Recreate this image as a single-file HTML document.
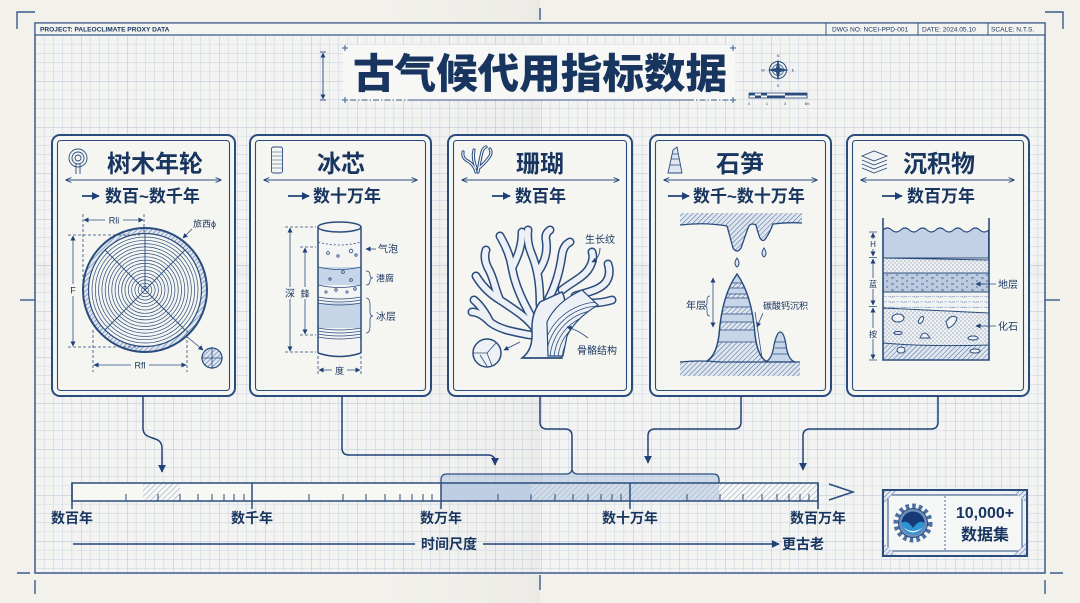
<!DOCTYPE html>
<html><head><meta charset="utf-8">
<style>
html,body{margin:0;padding:0;background:#f2f1ec;}
svg{display:block}
text{font-family:"Liberation Sans","Noto Sans CJK SC",sans-serif;fill:#18355f;}
.b{font-weight:700}
</style></head><body>
<svg width="1080" height="603" viewBox="0 0 1080 603" xmlns="http://www.w3.org/2000/svg">
<defs>
<pattern id="grid" x="35" y="35" width="46" height="46" patternUnits="userSpaceOnUse">
 <path d="M9.2 0V46M18.4 0V46M27.6 0V46M36.8 0V46M0 9.2H46M0 18.4H46M0 27.6H46M0 36.8H46" stroke="#d3dbe6" stroke-width="0.7" fill="none"/>
 <path d="M0 0V46M0 0H46" stroke="#b3c1d6" stroke-width="1" fill="none"/>
</pattern>
<pattern id="hatch" width="3.5" height="3.5" patternUnits="userSpaceOnUse" patternTransform="rotate(45)">
 <rect width="3.5" height="3.5" fill="#dfe6f0"/>
 <line x1="0" y1="0" x2="0" y2="3.5" stroke="#34578a" stroke-width="0.9"/>
</pattern>
<pattern id="hatchT" width="4" height="4" patternUnits="userSpaceOnUse" patternTransform="rotate(45)">
 <line x1="0" y1="0" x2="0" y2="4" stroke="#7088ad" stroke-width="0.8"/>
</pattern>
<pattern id="dots" width="4" height="4" patternUnits="userSpaceOnUse">
 <rect width="4" height="4" fill="#eef0f1"/>
 <circle cx="1" cy="1" r="0.55" fill="#3b5d8c"/><circle cx="3" cy="3" r="0.45" fill="#3b5d8c"/>
</pattern>
<pattern id="dash" width="10" height="6" patternUnits="userSpaceOnUse">
 <rect width="10" height="6" fill="#bccbdf"/>
 <path d="M1 2H4M6 5H8" stroke="#2d4f80" stroke-width="0.8"/>
</pattern>
<pattern id="bricks" width="12" height="5.3" patternUnits="userSpaceOnUse">
 <rect width="12" height="5.3" fill="#f1f2f2"/>
 <path d="M0 5.3H12M2 0H7" stroke="#5a77a0" stroke-width="0.7" stroke-dasharray="3 1"/>
</pattern>
<marker id="ah" viewBox="0 0 10 10" refX="9" refY="5" markerWidth="8" markerHeight="8" markerUnits="userSpaceOnUse" orient="auto-start-reverse">
 <path d="M0 0L10 5L0 10z" fill="#1f4177"/>
</marker>
<marker id="as" viewBox="0 0 10 10" refX="9" refY="5" markerWidth="5" markerHeight="5" markerUnits="userSpaceOnUse" orient="auto-start-reverse">
 <path d="M0 0L10 5L0 10z" fill="#1f4177"/>
</marker>
<marker id="ao" viewBox="0 0 10 10" refX="9" refY="5" markerWidth="6" markerHeight="6" markerUnits="userSpaceOnUse" orient="auto-start-reverse">
 <path d="M0 1L10 5L0 9" fill="none" stroke="#1f4177" stroke-width="1.5"/>
</marker>
<linearGradient id="fold" x1="0" x2="1" y1="0" y2="0">
 <stop offset="0" stop-color="#000" stop-opacity="0"/>
 <stop offset="0.9" stop-color="#000" stop-opacity="0.02"/>
 <stop offset="1" stop-color="#000" stop-opacity="0.035"/>
</linearGradient>
<clipPath id="stalClip"><path d="M702 363 Q716 360 719 335 Q722 295 737 274 Q752 295 755 335 Q758 360 770 363 Z"/></clipPath>
<clipPath id="coralBand"><path d="M548 356 L547 322 Q556 302 582 290 L598 305 Q576 318 567 336 L563 356 Z"/></clipPath>
</defs>

<!-- paper -->
<rect width="1080" height="603" fill="#f2f1ec"/>
<rect x="35" y="35" width="1010" height="538" fill="#f3f4f2"/>
<rect x="35" y="35" width="1010" height="538" fill="url(#grid)"/>
<rect x="380" y="0" width="160" height="603" fill="url(#fold)"/>
<rect x="35" y="262" width="1010" height="16" fill="#000" opacity="0.015"/>
<!-- frame -->
<rect x="35" y="23" width="1010" height="550" fill="none" stroke="#3a5b8a" stroke-width="1.5"/>
<rect x="35.7" y="23.7" width="1008.6" height="11.3" fill="#f3f3f0"/>
<line x1="35" y1="35" x2="1045" y2="35" stroke="#3a5b8a" stroke-width="1.2"/>
<path d="M826 23V35M918 23V35M988 23V35" stroke="#3a5b8a" stroke-width="1"/>
<text x="40" y="31.5" font-size="6.6" class="b" fill="#2a3f5f">PROJECT: PALEOCLIMATE PROXY DATA</text>
<text x="832" y="31.5" font-size="6.6" fill="#2a3f5f">DWG NO: NCEI-PPD-001</text>
<text x="922" y="31.5" font-size="6.6" fill="#2a3f5f">DATE: 2024.05.10</text>
<text x="991" y="31.5" font-size="6.6" fill="#2a3f5f">SCALE: N.T.S.</text>
<g stroke="#3a5b8a" stroke-width="1.4" fill="none">
<path d="M17 29V12H35"/><path d="M1045 12H1063V29"/>
<path d="M17 573H30M35 580V594"/><path d="M1050 573H1063M1045 580V594"/>
<path d="M540 575V590"/><path d="M540 8V20"/>
<path d="M20 300H35"/><path d="M1045 300H1060"/>
</g>

<!-- title -->
<rect x="343" y="45" width="392" height="55" fill="#f7f7f5"/>
<g stroke="#3a5b8a" stroke-width="1" fill="none">
<path d="M342 48H348M345 45V51M730 48H736M733 45V51M342 100H348M345 97V103M730 100H736M733 97V103"/>
<path d="M350 100H410" stroke-dasharray="6 2 1.5 2"/>
<path d="M410 100H688"/>
<path d="M688 100H730" stroke-dasharray="6 2 1.5 2"/>
<path d="M320 52H326M320 100H326"/>
<line x1="323" y1="53" x2="323" y2="99" marker-start="url(#as)" marker-end="url(#as)"/>
</g>
<text x="353" y="88" font-size="41" font-weight="900" fill="#17386a" textLength="374" lengthAdjust="spacingAndGlyphs">古气候代用指标数据</text>
<g transform="translate(778,70)">
<circle r="8.5" fill="none" stroke="#2a4c7d" stroke-width="1"/>
<circle r="5.5" fill="none" stroke="#2a4c7d" stroke-width="0.7"/>
<path d="M0 -11L2 -2L11 0L2 2L0 11L-2 2L-11 0L-2 -2Z" fill="#2a4c7d"/>
<text x="0" y="-13" font-size="4" text-anchor="middle">N</text>
<text x="0" y="17" font-size="4" text-anchor="middle">S</text>
<text x="-15" y="1.5" font-size="4" text-anchor="middle">W</text>
<text x="15" y="1.5" font-size="4" text-anchor="middle">E</text>
</g>
<g>
<rect x="749" y="93" width="58" height="5" fill="#f6f6f3" stroke="#2a4c7d" stroke-width="0.8"/>
<rect x="749" y="93" width="6" height="2.5" fill="#2a4c7d"/><rect x="755" y="95.5" width="6" height="2.5" fill="#2a4c7d"/>
<rect x="761" y="93" width="6" height="2.5" fill="#2a4c7d"/><rect x="767" y="95.5" width="18" height="2.5" fill="#2a4c7d"/>
<rect x="785" y="93" width="22" height="2.5" fill="#2a4c7d"/>
<text x="749" y="105" font-size="3.5" text-anchor="middle">0</text><text x="767" y="105" font-size="3.5" text-anchor="middle">1</text>
<text x="785" y="105" font-size="3.5" text-anchor="middle">3</text><text x="807" y="105" font-size="3.5" text-anchor="middle">5m</text>
</g>

<!-- cards -->
<g fill="#f5f5f1" stroke="#2a4c7d">
<rect x="52" y="135" width="183" height="261" rx="8" stroke-width="2"/>
<rect x="250" y="135" width="181" height="261" rx="8" stroke-width="2"/>
<rect x="448" y="135" width="184" height="261" rx="8" stroke-width="2"/>
<rect x="650" y="135" width="181" height="261" rx="8" stroke-width="2"/>
<rect x="847" y="135" width="182" height="261" rx="8" stroke-width="2"/>
</g>
<g fill="none" stroke="#2a4c7d" stroke-width="1.1">
<rect x="57.5" y="140.5" width="172" height="250" rx="3"/>
<rect x="255.5" y="140.5" width="170" height="250" rx="3"/>
<rect x="453.5" y="140.5" width="173" height="250" rx="3"/>
<rect x="655.5" y="140.5" width="170" height="250" rx="3"/>
<rect x="852.5" y="140.5" width="171" height="250" rx="3"/>
</g>
<text x="107" y="172" class="b" font-size="24">树木年轮</text>
<text x="317" y="172" class="b" font-size="24">冰芯</text>
<text x="516" y="172" class="b" font-size="24">珊瑚</text>
<text x="716" y="172" class="b" font-size="24">石笋</text>
<text x="903" y="172" class="b" font-size="24">沉积物</text>
<g stroke="#2a4c7d" stroke-width="1" fill="none">
<line x1="66" y1="180" x2="221" y2="180" marker-start="url(#ao)" marker-end="url(#ao)"/>
<line x1="264" y1="180" x2="417" y2="180" marker-start="url(#ao)" marker-end="url(#ao)"/>
<line x1="462" y1="180" x2="619" y2="180" marker-start="url(#ao)" marker-end="url(#ao)"/>
<line x1="664" y1="180" x2="817" y2="180" marker-start="url(#ao)" marker-end="url(#ao)"/>
<line x1="861" y1="180" x2="1014" y2="180" marker-start="url(#ao)" marker-end="url(#ao)"/>
</g>
<g stroke="#1f4177" stroke-width="1.8" fill="none">
<line x1="82" y1="196" x2="99" y2="196" marker-end="url(#ah)"/>
<line x1="288" y1="196" x2="309" y2="196" marker-end="url(#ah)"/>
<line x1="492" y1="196" x2="510" y2="196" marker-end="url(#ah)"/>
<line x1="668" y1="196" x2="689" y2="196" marker-end="url(#ah)"/>
<line x1="882" y1="196" x2="902" y2="196" marker-end="url(#ah)"/>
</g>
<text x="105" y="202" class="b" font-size="17">数百~数千年</text>
<text x="313" y="202" class="b" font-size="17">数十万年</text>
<text x="515" y="202" class="b" font-size="17">数百年</text>
<text x="693" y="202" class="b" font-size="17">数千~数十万年</text>
<text x="907" y="202" class="b" font-size="17">数百万年</text>

<!-- ICONS -->
<g stroke="#2a4c7d" fill="none" stroke-width="0.9">
 <circle cx="78" cy="158" r="9"/><circle cx="78" cy="158" r="6"/><circle cx="78" cy="158" r="3"/>
 <path d="M76 163V174M80 163V174"/>
 <rect x="271.5" y="147" width="11" height="26" rx="2"/>
 <path d="M272 152H282M272 156H282M272 160H282M272 164H282M272 168H282" stroke-width="0.6"/>
 <g stroke-width="3.2" stroke-linecap="round">
 <path d="M476 172 Q474 164 466 160 Q462 157 463 152"/>
 <path d="M476 168 Q472 158 474 150"/>
 <path d="M478 172 Q480 160 482 152 Q483 148 486 147"/>
 <path d="M479 168 Q486 162 490 156 Q492 152 490 149"/>
 </g>
 <g stroke="#eef1f5" stroke-width="1.2" stroke-linecap="round">
 <path d="M476 172 Q474 164 466 160 Q462 157 463 152"/>
 <path d="M476 168 Q472 158 474 150"/>
 <path d="M478 172 Q480 160 482 152 Q483 148 486 147"/>
 <path d="M479 168 Q486 162 490 156 Q492 152 490 149"/>
 </g>
 <path d="M668 173 L673 150 L677 147 L682 173 Z" fill="#dfe6f0"/>
 <path d="M670 165H681M671 159H679M672 154H678" stroke-width="0.8"/>
 <path d="M862 156 L874 151 L887 156 L874 161 Z" fill="#eef1f5"/>
 <path d="M862 160 L874 165 L887 160 M862 164 L874 169 L887 164 M862 168 L874 173 L887 168"/>
</g>

<!-- CARD1 tree ring -->
<g>
<circle cx="145" cy="290" r="62" fill="url(#hatch)" stroke="#2a4c7d" stroke-width="2"/>
<circle cx="145" cy="290" r="56.5" fill="#f5f5f1" stroke="#2a4c7d" stroke-width="1.2"/>
<g fill="none" stroke="#2a4c7d" stroke-width="0.7">
<circle cx="145" cy="290" r="53"/><circle cx="145" cy="290" r="49.7"/><circle cx="145" cy="290" r="46.4"/><circle cx="145" cy="290" r="43.1"/>
<circle cx="145" cy="290" r="39.8"/><circle cx="145" cy="290" r="36.5"/><circle cx="145" cy="290" r="33.2"/><circle cx="145" cy="290" r="29.9"/>
<circle cx="145" cy="290" r="26.6"/><circle cx="145" cy="290" r="23.3"/><circle cx="145" cy="290" r="20"/><circle cx="145" cy="290" r="16.7"/>
<circle cx="145" cy="290" r="13.4"/><circle cx="145" cy="290" r="10.1"/><circle cx="145" cy="290" r="6.8"/><circle cx="145" cy="290" r="3.5"/>
<path d="M105 250L185 330M185 250L105 330M145 233V290" stroke-width="0.9"/>
</g>
<g stroke="#2a4c7d" stroke-width="0.8" fill="none">
<path d="M83 214V300M144 214V232M68 235H140M68 347H140M93 330V372M187 330V372" stroke-dasharray="3 2"/>
<line x1="84" y1="220" x2="143" y2="220" marker-start="url(#as)" marker-end="url(#as)"/>
<line x1="73" y1="236" x2="73" y2="346" marker-start="url(#as)" marker-end="url(#as)"/>
<line x1="94" y1="365" x2="186" y2="365" marker-start="url(#as)" marker-end="url(#as)"/>
<line x1="192" y1="229" x2="183" y2="238" marker-end="url(#as)"/>
<line x1="186" y1="336" x2="203" y2="350" marker-end="url(#as)"/>
</g>
<rect x="105" y="215" width="18" height="10" fill="#f5f5f1"/>
<text x="114" y="223.5" font-size="9" text-anchor="middle">Rli</text>
<rect x="68" y="284" width="10" height="12" fill="#f5f5f1"/>
<text x="73" y="293.5" font-size="9" text-anchor="middle">F</text>
<rect x="131" y="360" width="18" height="10" fill="#f5f5f1"/>
<text x="140" y="368.5" font-size="9" text-anchor="middle">Rfl</text>
<text x="193" y="227" font-size="9">旅西ϕ</text>
<circle cx="212" cy="358" r="10" fill="url(#hatch)" stroke="#2a4c7d" stroke-width="1.2"/>
<path d="M201 358H223M212 347V369" stroke="#2a4c7d" stroke-width="0.8"/>
</g>

<!-- CARD2 ice core -->
<g>
<rect x="318" y="227" width="43" height="126" fill="#f3f4f3"/>
<rect x="318" y="267" width="43" height="18" fill="#c6d5e8"/>
<rect x="318" y="303" width="43" height="25" fill="#c6d5e8"/>
<g fill="none" stroke="#2a4c7d" stroke-width="0.8">
<path d="M318 267 Q339.5 272 361 267M318 285 Q339.5 290 361 285M318 297 Q339.5 301 361 297M318 300 Q339.5 304 361 300M318 303 Q339.5 307 361 303M318 328 Q339.5 332 361 328M318 331 Q339.5 335 361 331M318 334 Q339.5 338 361 334M318 337 Q339.5 341 361 337"/>
<path d="M318 242 Q339.5 248 361 242" stroke-dasharray="2 2"/>
<circle cx="328" cy="253" r="1.4"/><circle cx="338" cy="256" r="1.2"/><circle cx="351" cy="251" r="1.8"/><circle cx="356" cy="255" r="1.2"/>
<circle cx="343" cy="272" r="1.4"/><circle cx="330" cy="279" r="1.2"/><circle cx="351" cy="280" r="1.4"/>
<circle cx="326" cy="292" r="1.1"/><circle cx="336" cy="290" r="1.3"/><circle cx="347" cy="292" r="1.1"/><circle cx="355" cy="289" r="1.3"/>
</g>
<g fill="none" stroke="#2a4c7d" stroke-width="1.5">
<ellipse cx="339.5" cy="227" rx="21.5" ry="5"/>
<path d="M318 227V353M361 227V353M318 353 Q339.5 360 361 353"/>
</g>
<g stroke="#2a4c7d" stroke-width="0.8" fill="none">
<path d="M285 227H316M300 247H316M300 335H316M285 352H316M318 356V375M361 356V375" stroke-dasharray="3 2"/>
<line x1="290" y1="228" x2="290" y2="351" marker-start="url(#as)" marker-end="url(#as)"/>
<line x1="305" y1="248" x2="305" y2="334" marker-start="url(#as)" marker-end="url(#as)"/>
<line x1="319" y1="370" x2="360" y2="370" marker-start="url(#as)" marker-end="url(#as)"/>
<line x1="376" y1="249" x2="366" y2="249" marker-end="url(#as)"/>
<path d="M366 271 Q370 271 370 275 Q370 278 373 278 Q370 278 370 281 Q370 285 366 285"/>
<path d="M366 298 Q370 298 370 305 V312 Q370 316 373 316 Q370 316 370 320 V326 Q370 333 366 333"/>
</g>
<rect x="284" y="287" width="12" height="12" fill="#f5f5f1"/>
<text x="290" y="297" font-size="10" text-anchor="middle">深</text>
<rect x="299" y="287" width="12" height="12" fill="#f5f5f1"/>
<text x="305" y="297" font-size="9" text-anchor="middle">鋒</text>
<rect x="332" y="365" width="15" height="11" fill="#f5f5f1"/>
<text x="339.5" y="374" font-size="9" text-anchor="middle">度</text>
<text x="378" y="252.5" font-size="10">气泡</text>
<text x="376" y="281.5" font-size="9" fill="#4a6590">港腐</text>
<text x="376" y="320" font-size="10">冰层</text>
</g>

<!-- CARD3 coral -->
<g>
<g fill="none" stroke-linecap="round" stroke-linejoin="round">
<g stroke="#2a4c7d" stroke-width="9">
<path d="M536 330 C528 318 515 310 500 300 C490 294 482 286 476 276"/>
<path d="M500 300 C495 290 494 278 488 268 C485 262 484 256 486 250"/>
<path d="M532 318 C522 300 515 285 512 268 C510 255 505 245 500 236"/>
<path d="M512 268 C518 256 522 246 522 232"/>
<path d="M540 305 C540 285 538 270 532 255 C528 246 527 238 528 230"/>
<path d="M538 272 C545 262 548 252 546 240 C545 235 547 232 550 230"/>
<path d="M548 300 C556 285 560 270 562 255 C563 248 566 244 570 242"/>
<path d="M562 290 C572 282 582 278 588 270 C592 264 594 258 592 252"/>
<path d="M575 296 C588 292 600 290 606 282 C610 276 610 270 608 264"/>
<path d="M580 302 C592 304 602 303 612 300"/>
<path d="M530 335 C515 332 500 330 490 322 C484 316 478 312 472 312"/>
<path d="M490 322 C485 312 480 305 474 300"/>
</g>
<g stroke="#edf1f6" stroke-width="6">
<path d="M536 330 C528 318 515 310 500 300 C490 294 482 286 476 276"/>
<path d="M500 300 C495 290 494 278 488 268 C485 262 484 256 486 250"/>
<path d="M532 318 C522 300 515 285 512 268 C510 255 505 245 500 236"/>
<path d="M512 268 C518 256 522 246 522 232"/>
<path d="M540 305 C540 285 538 270 532 255 C528 246 527 238 528 230"/>
<path d="M538 272 C545 262 548 252 546 240 C545 235 547 232 550 230"/>
<path d="M548 300 C556 285 560 270 562 255 C563 248 566 244 570 242"/>
<path d="M562 290 C572 282 582 278 588 270 C592 264 594 258 592 252"/>
<path d="M575 296 C588 292 600 290 606 282 C610 276 610 270 608 264"/>
<path d="M580 302 C592 304 602 303 612 300"/>
<path d="M530 335 C515 332 500 330 490 322 C484 316 478 312 472 312"/>
<path d="M490 322 C485 312 480 305 474 300"/>
</g>
</g>
<path d="M522 358 Q533 350 532 332 Q531 314 540 302 L562 292 Q568 302 562 322 Q556 340 562 358 Z" fill="#edf1f6" stroke="#2a4c7d" stroke-width="1.5"/>
<path d="M548 356 L547 322 Q556 302 582 290 L598 305 Q576 318 567 336 L563 356 Z" fill="#edf1f6" stroke="#2a4c7d" stroke-width="1.2"/>
<g clip-path="url(#coralBand)" fill="none" stroke="#2a4c7d" stroke-width="0.8">
<circle cx="600" cy="360" r="14"/><circle cx="600" cy="360" r="18"/><circle cx="600" cy="360" r="22"/><circle cx="600" cy="360" r="26"/>
<circle cx="600" cy="360" r="30"/><circle cx="600" cy="360" r="34"/><circle cx="600" cy="360" r="38"/><circle cx="600" cy="360" r="42"/>
<circle cx="600" cy="360" r="46"/><circle cx="600" cy="360" r="50"/><circle cx="600" cy="360" r="54"/><circle cx="600" cy="360" r="58"/>
</g>
<path d="M522 358 H562" stroke="#2a4c7d" stroke-width="1.5"/>
<circle cx="487" cy="353" r="14" fill="#eef1f5" stroke="#2a4c7d" stroke-width="1.5"/>
<path d="M473 353H487L496 343M487 353L492 366M480 355L487 366" stroke="#2a4c7d" stroke-width="0.8" fill="none"/>
<g stroke="#2a4c7d" stroke-width="0.9" fill="none">
<line x1="520" y1="342" x2="504" y2="350" marker-end="url(#as)"/>
<path d="M600 248 Q600 258 592 262" marker-end="url(#as)"/>
<path d="M588 338 Q578 330 567 327" marker-end="url(#as)"/>
</g>
<text x="585" y="243" font-size="10">生长纹</text>
<text x="577" y="354" font-size="10">骨骼结构</text>
</g>

<!-- CARD4 stalagmite -->
<g>
<path d="M680 213 H802 V223 Q788 222 773 224 Q770 232 766 238 Q763 243 760 238 Q757 230 756 225 Q750 222 748 228 L741 248 Q737 254 733 248 L727 226 Q705 222 680 225 Z" fill="url(#hatch)"/>
<path d="M680 225 Q705 222 727 226 L733 248 Q737 254 741 248 L748 228 Q750 222 756 225 Q757 230 760 238 Q763 243 766 238 Q770 232 773 224 Q788 222 802 223" fill="none" stroke="#2a4c7d" stroke-width="1.3"/>
<path d="M737 258 Q733 264 737 267 Q741 264 737 258Z" fill="#dfe6f0" stroke="#2a4c7d" stroke-width="1"/>
<path d="M764 248 Q760 254 764 257 Q768 254 764 248Z" fill="#dfe6f0" stroke="#2a4c7d" stroke-width="1"/>
<g clip-path="url(#stalClip)">
<rect x="700" y="270" width="72" height="95" fill="url(#hatch)"/>
<rect x="700" y="274" width="72" height="9" fill="#c6d5e8"/>
<rect x="700" y="288" width="72" height="6" fill="#c6d5e8"/>
<rect x="700" y="298" width="72" height="9" fill="#c6d5e8"/>
<rect x="700" y="314" width="72" height="8" fill="#c6d5e8"/>
<rect x="700" y="330" width="72" height="12" fill="#c6d5e8"/>
<path d="M700 283H772M700 288H772M700 294H772M700 298H772M700 307H772M700 314H772M700 322H772M700 330H772M700 342H772" stroke="#2a4c7d" stroke-width="0.8"/>
</g>
<path d="M702 363 Q716 360 719 335 Q722 295 737 274 Q752 295 755 335 Q758 360 770 363" fill="none" stroke="#2a4c7d" stroke-width="1.5"/>
<path d="M765 362 Q772 360 774 345 Q777 332 780 332 Q784 332 786 345 Q788 360 795 362 Z" fill="#c6d5e8" stroke="#2a4c7d" stroke-width="1.3"/>
<path d="M774 342H786M775 348H786M773 354H788" stroke="#2a4c7d" stroke-width="0.8"/>
<path d="M680 362 Q700 360 720 362 H800 V376 H680 Z" fill="url(#hatch)"/>
<path d="M680 362 Q700 360 720 362 H800" fill="none" stroke="#2a4c7d" stroke-width="1.3"/>
<g stroke="#2a4c7d" stroke-width="0.8" fill="none">
<line x1="713" y1="278" x2="713" y2="327" marker-start="url(#as)" marker-end="url(#as)"/>
<path d="M710 296 Q707 296 707 300 V303 Q707 306 704 306 Q707 306 707 309 V312 Q707 316 710 316"/>
<path d="M755 312 L762 358"/>
<line x1="763" y1="313" x2="757" y2="327" marker-end="url(#as)"/>
</g>
<text x="686" y="309" font-size="10">年层</text>
<text x="763" y="309" font-size="9">碳酸钙沉积</text>
</g>

<!-- CARD5 sediment -->
<g>
<path d="M883 230 q4.4 -4 8.8 0 t8.8 0 t8.8 0 t8.8 0 t8.8 0 t8.8 0 t8.8 0 t8.8 0 t8.8 0 t8.8 0 t8.8 0 t8.8 0 V258 L883 258 Z" fill="#c2d1e6" stroke="#2a4c7d" stroke-width="1.1"/>
<path d="M883 258 L989 260 V273 H883 Z" fill="url(#dots)"/>
<rect x="883" y="273" width="106" height="19" fill="url(#dash)"/>
<rect x="883" y="292" width="106" height="16" fill="url(#bricks)"/>
<path d="M883 308 L989 313 V345 Q930 347 883 343 Z" fill="url(#dots)"/>
<path d="M883 343 Q930 347 989 345 V360 H883 Z" fill="url(#hatch)"/>
<g fill="none" stroke="#2a4c7d" stroke-width="1">
<path d="M883 258 L989 260M883 273H989M883 292H989M883 308 L989 313M883 343 Q930 347 989 345"/>
<path d="M883 218V360H989V218" stroke-width="1.6"/>
</g>
<g fill="#eef1f5" stroke="#2a4c7d" stroke-width="1">
<ellipse cx="898" cy="318" rx="6" ry="4"/>
<ellipse cx="921" cy="320" rx="2" ry="4" transform="rotate(30 921 320)"/>
<path d="M946 322 Q952 313 957 318 Q955 326 948 328 Z"/>
<ellipse cx="898" cy="333" rx="4" ry="1.5"/>
<path d="M920 338 Q924 328 930 338 Z"/>
<ellipse cx="973" cy="338" rx="5" ry="2"/>
<ellipse cx="901" cy="350" rx="4" ry="3"/>
<ellipse cx="975" cy="351" rx="5" ry="2"/>
</g>
<g stroke="#2a4c7d" stroke-width="0.8" fill="none">
<line x1="873" y1="233" x2="873" y2="256" marker-start="url(#as)" marker-end="url(#as)"/>
<line x1="873" y1="259" x2="873" y2="305" marker-start="url(#as)" marker-end="url(#as)"/>
<line x1="873" y1="308" x2="873" y2="359" marker-start="url(#as)" marker-end="url(#as)"/>
<path d="M869 232H877M869 257.5H877M869 306.5H877M869 360H877"/>
<line x1="996" y1="284" x2="976" y2="284" marker-end="url(#as)"/>
<line x1="996" y1="326" x2="976" y2="326" marker-end="url(#as)"/>
</g>
<rect x="868" y="239" width="10" height="10" fill="#f5f5f1"/>
<text x="873" y="247" font-size="8" text-anchor="middle">H</text>
<rect x="868" y="278" width="10" height="11" fill="#f5f5f1"/>
<text x="873" y="287" font-size="8" text-anchor="middle">蓝</text>
<rect x="868" y="328" width="10" height="11" fill="#f5f5f1"/>
<text x="873" y="337" font-size="8" text-anchor="middle">按</text>
<text x="998" y="288" font-size="10">地层</text>
<text x="998" y="330" font-size="10">化石</text>
</g>

<!-- connectors -->
<g stroke="#1f4177" stroke-width="1.5" fill="none">
<path d="M143 396 V428 C143 442 162 434 162 448 V472" marker-end="url(#ah)"/>
<path d="M342 396 V448 Q342 455 349 455 H488 Q495 455 495 462 V465" marker-end="url(#ah)"/>
<path d="M540 396 V422 Q540 429 547 429 H565 Q572 429 572 436 V468"/>
<path d="M741 396 V422 Q741 429 734 429 H655 Q648 429 648 436 V463" marker-end="url(#ah)"/>
<path d="M938 396 V422 Q938 429 931 429 H810 Q803 429 803 436 V470" marker-end="url(#ah)"/>
</g>

<!-- timeline bar -->
<rect x="72" y="483" width="746" height="18" fill="#f7f7f4"/>
<rect x="143" y="483" width="37" height="18" fill="url(#hatchT)"/>
<rect x="531" y="483" width="287" height="18" fill="url(#hatchT)"/>
<path d="M441 501 V480 Q441 474 447 474 H566 Q572 474 572 468 Q572 474 578 474 H713 Q719 474 719 480 V501 Z" fill="#a9bfdc" fill-opacity="0.5"/>
<rect x="441" y="483" width="90" height="18" fill="#b7c9e1" fill-opacity="0.7"/>
<path d="M441 483 V480 Q441 474 447 474 H566 Q572 474 572 468 Q572 474 578 474 H713 Q719 474 719 480 V483" fill="none" stroke="#2a4c7d" stroke-width="1.3"/>
<rect x="72" y="483" width="746" height="18" fill="none" stroke="#2a4c7d" stroke-width="1.5"/>
<g stroke="#2a4c7d" stroke-width="1.5">
<path d="M72 483V509M252 483V509M441 483V509M630 483V509M818 483V509"/>
</g>
<g stroke="#2a4c7d" stroke-width="1">
<path d="M126 494V501M158 494V501M180 494V501M198 494V501M212 494V501M224 494V501M234 494V501M244 494V501"/>
<path d="M309 494V501M343 494V501M366 494V501M385 494V501M400 494V501M412 494V501M423 494V501M432 494V501"/>
<path d="M498 494V501M531 494V501M555 494V501M573 494V501M588 494V501M601 494V501M612 494V501M621 494V501"/>
<path d="M687 494V501M720 494V501M743 494V501M762 494V501M777 494V501M789 494V501M800 494V501M809 494V501"/>
</g>
<path d="M829 484 L853 492 L829 500" fill="none" stroke="#2a4c7d" stroke-width="1.5"/>
<text x="72" y="523" class="b" font-size="14" text-anchor="middle">数百年</text>
<text x="252" y="523" class="b" font-size="14" text-anchor="middle">数千年</text>
<text x="441" y="523" class="b" font-size="14" text-anchor="middle">数万年</text>
<text x="630" y="523" class="b" font-size="14" text-anchor="middle">数十万年</text>
<text x="818" y="523" class="b" font-size="14" text-anchor="middle">数百万年</text>
<line x1="73" y1="544" x2="415" y2="544" stroke="#1f4177" stroke-width="1.5"/>
<line x1="483" y1="544" x2="779" y2="544" stroke="#1f4177" stroke-width="1.5" marker-end="url(#ah)"/>
<text x="449" y="549" class="b" font-size="14" text-anchor="middle">时间尺度</text>
<text x="782" y="549" class="b" font-size="14">更古老</text>

<!-- badge -->
<g>
<rect x="883" y="490" width="144" height="66" fill="#eef2f7" stroke="#2a4c7d" stroke-width="2"/>
<rect x="888" y="495" width="134" height="56" fill="#f5f6f6" stroke="#2a4c7d" stroke-width="1"/>
<path d="M884 491 L896 491 L884 503Z M1026 491 L1014 491 L1026 503Z M884 555 L896 555 L884 543Z M1026 555 L1014 555 L1026 543Z" fill="url(#hatch)"/>
<line x1="945" y1="496" x2="945" y2="550" stroke="#2a4c7d" stroke-width="0.8" stroke-dasharray="2 2"/>
<circle cx="913" cy="523" r="17" fill="none" stroke="#4b6fa0" stroke-width="5" stroke-dasharray="3.5 3.1"/>
<circle cx="913" cy="523" r="14.5" fill="#6f8fbb" stroke="#2a4c7d" stroke-width="1"/>
<circle cx="913" cy="523" r="11.5" fill="#2f93d3"/>
<path d="M901.5 523 A11.5 11.5 0 0 1 924.5 523 Q919 519 913 528 Q907 519 901.5 523Z" fill="#163a78"/>
<path d="M903 527 Q913 535 923 527 Q913 538 903 527Z" fill="#e8f3fb"/>
<text x="985" y="518" class="b" font-size="16" text-anchor="middle">10,000+</text>
<text x="985" y="540" class="b" font-size="16" text-anchor="middle">数据集</text>
</g>
</svg>
</body></html>
